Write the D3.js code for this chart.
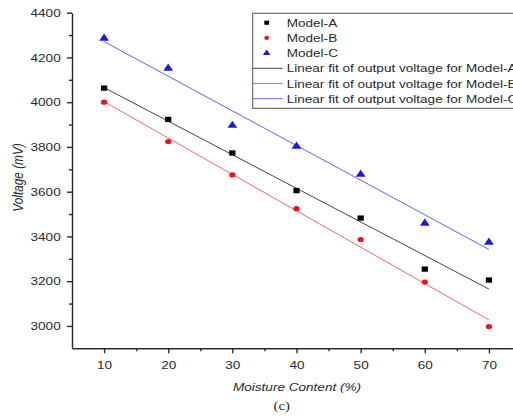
<!DOCTYPE html>
<html><head><meta charset="utf-8">
<script src="https://cdn.jsdelivr.net/npm/d3@7"></script>
<style>body{margin:0;background:#fff}svg{display:block}text{font-family:"Liberation Sans",Arial,sans-serif}</style>
</head><body><svg id="c" width="513" height="417"></svg>
<script>
const moisture = [10, 20, 30, 40, 50, 60, 70];
const modelA = [4063, 3923, 3773, 3605, 3482, 3254, 3205];
const modelB = [4000, 3824, 3675, 3524, 3386, 3196, 2997];
const modelC = [4285, 4151, 3896, 3803, 3677, 3459, 3374];
const xTicks = [10, 20, 30, 40, 50, 60, 70];
const yTicks = [3000, 3200, 3400, 3600, 3800, 4000, 4200, 4400];
const legendLabels = ["Model-A", "Model-B", "Model-C",
  "Linear fit of output voltage for Model-A",
  "Linear fit of output voltage for Model-B",
  "Linear fit of output voltage for Model-C"];

(function () {
const svg = d3.select("#c");
const pL = 72, pR = 521, pT = 12.7, pB = 348.3;
const S = 1.18; // horizontal stretch of the reference image
const x = d3.scaleLinear().domain([5, 75]).range([pL, pR]);
const y = d3.scaleLinear().domain([2900, 4400]).range([pB, pT]);
const axisColor = "#2a2a2a";
const textColor = "#2a2a2a";

function fit(xs, ys) {
  const mx = d3.mean(xs), my = d3.mean(ys);
  const b = d3.sum(xs, (v, i) => (v - mx) * (ys[i] - my)) / d3.sum(xs, v => (v - mx) ** 2);
  return v => my + b * (v - mx);
}

const series = [
  {vals: modelA, color: "#000", line: "#444", shape: d3.symbolSquare, size: 28},
  {vals: modelB, color: "#e8141e", line: "#f06a6a", shape: d3.symbolCircle, size: 22},
  {vals: modelC, color: "#1a1ae0", line: "#6464ee", shape: d3.symbolTriangle, size: 30}
];

series.forEach(s => {
  const f = fit(moisture, s.vals);
  svg.append("line")
    .attr("x1", x(10)).attr("y1", y(f(10)))
    .attr("x2", x(70)).attr("y2", y(f(70)))
    .attr("stroke", s.line).attr("stroke-width", 1);
});
series.forEach(s => {
  svg.append("g").selectAll("path").data(s.vals).join("path")
    .attr("d", d3.symbol().type(s.shape).size(s.size))
    .attr("transform", (d, i) => `translate(${x(moisture[i])},${y(d)}) scale(${S},1)`)
    .attr("fill", s.color);
});

svg.append("g").attr("class", "xa").attr("transform", `translate(0,${pB})`)
  .call(d3.axisBottom(x).tickValues(xTicks).tickSize(5).tickPadding(8).tickSizeOuter(0));
svg.append("g").attr("transform", `translate(0,${pB})`)
  .call(d3.axisBottom(x).tickValues([15, 25, 35, 45, 55, 65]).tickSize(3).tickFormat("").tickSizeOuter(0))
  .select(".domain").remove();
svg.append("g").attr("class", "ya").attr("transform", `translate(${pL},0)`)
  .call(d3.axisLeft(y).tickValues(yTicks).tickFormat(d3.format("d")).tickSize(5).tickPadding(4.6).tickSizeOuter(0));
svg.append("g").attr("transform", `translate(${pL},0)`)
  .call(d3.axisLeft(y).tickValues([3100, 3300, 3500, 3700, 3900, 4100, 4300]).tickSize(3).tickFormat("").tickSizeOuter(0))
  .select(".domain").remove();
svg.selectAll(".domain, .tick line").attr("stroke", axisColor).attr("stroke-width", 1.4);
svg.selectAll(".tick text").attr("fill", textColor).style("font-size", "11.5px")
  .style("font-family", "'Liberation Sans',Arial,sans-serif")
  .attr("transform", `scale(${S},1)`);

function stext(px, py, str, size, opts = {}) {
  const t = svg.append("text")
    .attr("transform", `translate(${px},${py}) ${opts.rot ? "rotate(-90)" : `scale(${S},1)`}`)
    .attr("text-anchor", opts.anchor || "middle")
    .style("font-size", size + "px").attr("fill", textColor).text(str);
  if (opts.italic) t.style("font-style", "italic");
  if (opts.serif) t.style("font-family", "'Liberation Serif',serif");
  return t;
}
stext(297, 390.5, "Moisture Content (%)", 11.5, {italic: true});
// rotated title: the horizontal stretch thickens glyphs rather than lengthening
svg.append("text").attr("transform", `translate(23,177.5) scale(${S},1) rotate(-90)`)
  .attr("text-anchor", "middle").style("font-size", "11.8px").style("font-style", "italic")
  .attr("fill", textColor).text("Voltage (mV)");
stext(281.7, 410, "(c)", 12.5, {serif: true});

const lg = svg.append("g");
lg.append("rect").attr("x", 252.7).attr("y", 13.3).attr("width", 300).attr("height", 95)
  .attr("fill", "#fff").attr("stroke", "#555").attr("stroke-width", 1);
const rowY = i => 22.7 + i * 15.2;
legendLabels.forEach((lab, i) => {
  const ry = rowY(i);
  if (i < 3) {
    const s = series[i];
    lg.append("path").attr("d", d3.symbol().type(s.shape).size(s.size * 0.6))
      .attr("transform", `translate(266.7,${ry}) scale(${S},1)`).attr("fill", s.color);
  } else {
    lg.append("line").attr("x1", 253).attr("x2", 282.7).attr("y1", ry).attr("y2", ry)
      .attr("stroke", series[i - 3].line).attr("stroke-width", 1);
  }
  lg.append("text").attr("transform", `translate(286.7,${ry + 4}) scale(${S},1)`)
    .style("font-size", "11.5px").attr("fill", textColor).text(lab);
});
})();
</script></body></html>
